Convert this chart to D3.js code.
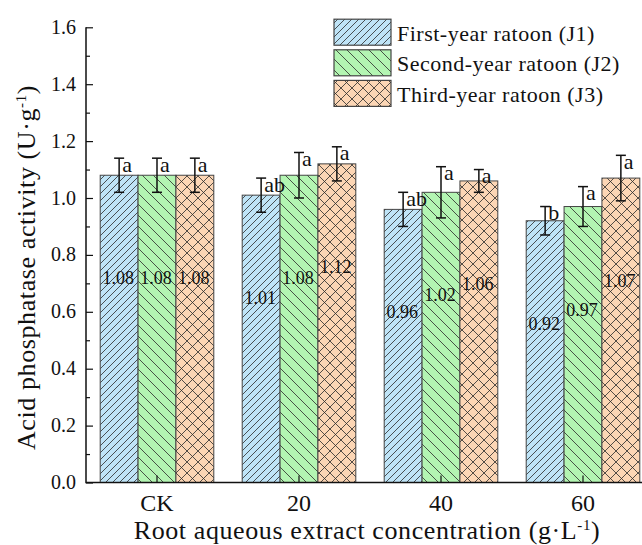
<!DOCTYPE html>
<html>
<head>
<meta charset="utf-8">
<script src="https://cdn.jsdelivr.net/npm/d3@7/dist/d3.min.js"></script>
<style>
  html, body { margin: 0; padding: 0; background: #fff; }
  svg { display: block; }
  text { font-family: "Liberation Serif", "Times New Roman", serif; fill: #111; }
</style>
</head>
<body>
<svg id="chart" width="642" height="545"></svg>
<script>
// ---- data ----
const categories = ["CK", "20", "40", "60"];
const seriesNames = ["First-year ratoon (J1)", "Second-year ratoon (J2)", "Third-year ratoon (J3)"];
const j1Values = [1.08, 1.01, 0.96, 0.92];
const j2Values = [1.08, 1.08, 1.02, 0.97];
const j3Values = [1.08, 1.12, 1.06, 1.07];
const j1Errors = [0.06, 0.06, 0.06, 0.05];
const j2Errors = [0.06, 0.08, 0.09, 0.07];
const j3Errors = [0.06, 0.06, 0.04, 0.08];
const j1Letters = ["a", "ab", "ab", "b"];
const j2Letters = ["a", "a", "a", "a"];
const j3Letters = ["a", "a", "a", "a"];
const yMajorTicks = [0.0, 0.2, 0.4, 0.6, 0.8, 1.0, 1.2, 1.4, 1.6];
const yMinorTicks = [0.1, 0.3, 0.5, 0.7, 0.9, 1.1, 1.3, 1.5];
const seriesKeys = ["J1", "J2", "J3"];

const valuesBySeries = [j1Values, j2Values, j3Values];
const errorsBySeries = [j1Errors, j2Errors, j3Errors];
const lettersBySeries = [j1Letters, j2Letters, j3Letters];

const rows = [];
categories.forEach((c, i) => {
  seriesKeys.forEach((k, s) => {
    rows.push({cat: c, key: k, s: s, v: valuesBySeries[s][i], e: errorsBySeries[s][i], l: lettersBySeries[s][i]});
  });
});

// ---- setup ----
const svg = d3.select("#chart");
const plotLeft = 86, plotBottom = 482.5, plotTop = 27.3;

const y = d3.scaleLinear().domain([0, 1.6]).range([plotBottom, plotTop]);
const x = d3.scaleBand().domain(categories).range([plotLeft, 654]).paddingInner(0.2).paddingOuter(0.1);
const xs = d3.scaleBand().domain(seriesKeys).range([0, x.bandwidth()]).padding(0);

// patterns
const defs = svg.append("defs");
const fills = {J1: "#bfe4f7", J2: "#b3f5b2", J3: "#fcd6b5"};
const lineCol = "#2a2a2a";
function pat(id, size, fill, d) {
  const p = defs.append("pattern").attr("id", id).attr("patternUnits", "userSpaceOnUse")
    .attr("width", size).attr("height", size);
  p.append("rect").attr("width", size).attr("height", size).attr("fill", fill);
  p.append("path").attr("d", d).attr("stroke", lineCol).attr("stroke-width", 0.8).attr("fill", "none");
}
pat("pJ1", 7, fills.J1, "M0,7 L7,0 M-1,1 L1,-1 M6,8 L8,6");
pat("pJ2", 11, fills.J2, "M0,0 L11,11 M-1,10 L1,12 M10,-1 L12,1");
pat("pJ3", 11, fills.J3, "M0,0 L11,11 M-1,10 L1,12 M10,-1 L12,1 M0,11 L11,0 M-1,1 L1,-1 M10,12 L12,10");

// bars
const bars = svg.append("g");
bars.selectAll("rect").data(rows).join("rect")
  .attr("x", d => x(d.cat) + xs(d.key))
  .attr("y", d => y(d.v))
  .attr("width", xs.bandwidth())
  .attr("height", d => y(0) - y(d.v))
  .attr("fill", d => `url(#p${d.key})`)
  .attr("stroke", "#444").attr("stroke-width", 1);

// value labels
svg.append("g").selectAll("text").data(rows).join("text")
  .attr("x", d => x(d.cat) + xs(d.key) + xs.bandwidth() / 2 - 1)
  .attr("y", d => y(d.v) + 109)
  .attr("text-anchor", "middle")
  .attr("font-size", 18)
  .text(d => d.v.toFixed(2));

// error bars
const eg = svg.append("g").attr("stroke", "#111").attr("stroke-width", 1.5);
rows.forEach(d => {
  const cx = x(d.cat) + xs(d.key) + xs.bandwidth() / 2;
  const y1 = y(d.v + d.e), y2 = y(d.v - d.e);
  eg.append("line").attr("x1", cx).attr("x2", cx).attr("y1", y1).attr("y2", y2);
  eg.append("line").attr("x1", cx - 5).attr("x2", cx + 5).attr("y1", y1).attr("y2", y1);
  eg.append("line").attr("x1", cx - 5).attr("x2", cx + 5).attr("y1", y2).attr("y2", y2);
});

// significance letters
svg.append("g").selectAll("text").data(rows).join("text")
  .attr("x", d => x(d.cat) + xs(d.key) + xs.bandwidth() / 2 + 3)
  .attr("y", d => y(d.v + d.e) + 13.5)
  .attr("font-size", 22)
  .text(d => d.l);

// y axis
const yAxis = svg.append("g").attr("transform", `translate(${plotLeft},0)`)
  .call(d3.axisLeft(y).tickValues(yMajorTicks).tickFormat(d3.format(".1f")).tickSize(-7).tickPadding(10));
yAxis.select(".domain").remove();
yAxis.selectAll("line").attr("stroke", "#111").attr("stroke-width", 1.2);
yAxis.selectAll("text").attr("font-size", 20).attr("font-family", "Liberation Serif").attr("fill", "#111").attr("dy", "0.3em");
const yMinor = svg.append("g").attr("transform", `translate(${plotLeft},0)`)
  .call(d3.axisLeft(y).tickValues(yMinorTicks).tickFormat("").tickSize(-4));
yMinor.select(".domain").remove();
yMinor.selectAll("line").attr("stroke", "#111").attr("stroke-width", 1.2);

// x axis
const xAxis = svg.append("g").attr("transform", `translate(0,${plotBottom})`)
  .call(d3.axisBottom(x).tickSize(-7).tickPadding(11));
xAxis.select(".domain").remove();
xAxis.selectAll("line").attr("stroke", "#111").attr("stroke-width", 1.2);
xAxis.selectAll("text").attr("font-size", 24).attr("font-family", "Liberation Serif").attr("fill", "#111").attr("dy", "0.71em");

// axis lines
svg.append("path").attr("d", `M${plotLeft},${plotTop} V${plotBottom} H642`)
  .attr("fill", "none").attr("stroke", "#111").attr("stroke-width", 1.5);

// axis titles
const xt = svg.append("text").attr("x", 367).attr("y", 539).attr("text-anchor", "middle")
  .attr("font-size", 26).attr("letter-spacing", 0.6);
xt.append("tspan").text("Root aqueous extract concentration (g·L");
xt.append("tspan").attr("font-size", 15).attr("dy", -9).text("-1");
xt.append("tspan").attr("dy", 9).text(")");

const yt = svg.append("text").attr("transform", "translate(35,267.5) rotate(-90)").attr("text-anchor", "middle")
  .attr("font-size", 26).attr("letter-spacing", 0.6);
yt.append("tspan").text("Acid phosphatase activity (U·g");
yt.append("tspan").attr("font-size", 15).attr("dy", -9).text("-1");
yt.append("tspan").attr("dy", 9).text(")");

// legend
const lg = svg.append("g");
seriesNames.forEach((name, i) => {
  const by = 40.7 + i * 30.6;
  lg.append("rect").attr("x", 334).attr("y", by - 21.5).attr("width", 57).attr("height", 26)
    .attr("fill", `url(#p${seriesKeys[i]})`).attr("stroke", "#444").attr("stroke-width", 1.2);
  lg.append("text").attr("x", 397).attr("y", by).attr("font-size", 22).attr("letter-spacing", 0.5).text(name);
});
</script>
</body>
</html>
